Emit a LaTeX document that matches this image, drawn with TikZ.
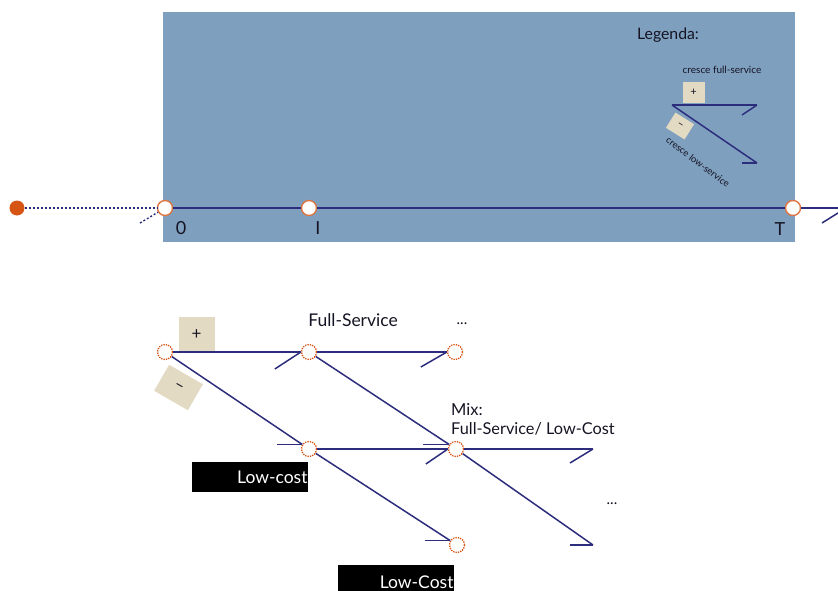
\documentclass[tikz,border=0pt]{standalone}
\usepackage{fontspec}
\setmainfont{Lato}
\definecolor{panelblue}{RGB}{127,159,191}
\definecolor{navy}{RGB}{45,45,125}
\definecolor{dotorange}{RGB}{214,84,20}
\definecolor{beige}{RGB}{226,218,194}
\definecolor{inkdark}{RGB}{20,20,35}
\begin{document}
\begin{tikzpicture}[x=1pt,y=-1pt,
  edge/.style={draw=navy, line width=1.5pt},
  dotedge/.style={draw=navy, line width=1.4pt, dash pattern=on 2pt off 2pt},
  tick/.style={circle, minimum size=15pt, inner sep=0pt, fill=white, draw=dotorange!80!white, line width=1.4pt},
  state/.style={circle, minimum size=15pt, inner sep=0pt, fill=white, draw=dotorange, line width=1.3pt, dash pattern=on 1.3pt off 1.1pt},
  signbox/.style={fill=beige, inner sep=0pt, text=inkdark},
  tag/.style={fill=black, text=white, inner sep=0pt, minimum width=116pt, minimum height=30pt, font=\fontsize{17.5}{19}\selectfont, text width=115pt, align=right},
  label/.style={text=inkdark, inner sep=0pt},
]
\useasboundingbox (0,0) rectangle (838,591);
\clip (0,0) rectangle (838,591);

% time panel
\fill[panelblue] (163,12) rectangle (795,242);

% timeline
\node[circle, fill=dotorange, minimum size=15pt, inner sep=0pt] (start) at (17,208) {};
\node[tick] (t0) at (165,208) {};
\node[tick] (tI) at (309,208) {};
\node[tick] (tT) at (793,208) {};
\coordinate (tEnd) at (846,208);
\coordinate (stub) at (140,223);
\draw[dotedge] (start) -- (t0);
\draw[dotedge] (stub) -- (t0);
\draw[edge] (t0) -- (tI);
\draw[edge] (tI) -- (tT);
\draw[edge] (tT) -- (tEnd);
\draw[edge] (tEnd) -- ++(-24,15);

\node[label, font=\fontsize{18}{19}\selectfont] (l0) at (181,228) {0};
\node[label, font=\fontsize{18}{19}\selectfont] (lI) at (318,228) {I};
\node[label, font=\fontsize{18}{19}\selectfont] (lT) at (780,229) {T};

% legend
\node[label, font=\fontsize{15.8}{17}\selectfont] (leg) at (668,35) {Legenda:};
\node[label, font=\fontsize{10}{11}\selectfont] (legfull) at (722,70) {cresce full-service};
\node[signbox, minimum width=22pt, minimum height=21pt, font=\fontsize{11}{12}\selectfont] (legplus) at (693.5,92.5) {+};
\node[signbox, minimum width=22pt, minimum height=18pt, rotate=-32, font=\fontsize{11}{12}\selectfont] (legminus) at (680,126) {--};
\node[label, rotate=-37, font=\fontsize{9.5}{10}\selectfont] (leglow) at (698,162) {cresce low-service};
\coordinate (legO) at (672,105);
\coordinate (legH) at (757,105);
\coordinate (legD) at (757,163);
\draw[edge] (legO) -- (legH);
\draw[edge] (legH) -- ++(-15,10);
\draw[edge] (legO) -- (legD);
\draw[edge] (legD) -- ++(-15,0);

% decision tree
\node[state] (A) at (165,352) {};
\node[state] (B) at (309,352) {};
\node[state] (C) at (455,352) {};
\node[state] (D) at (309,449) {};
\node[state] (E) at (456,449) {};
\node[state] (F) at (457,545) {};
\coordinate (Eh) at (593,449);
\coordinate (Ed) at (593,545);

\node[signbox, minimum size=36pt, font=\fontsize{17}{18}\selectfont] (plus) at (196.5,334.5) {+};
\node[signbox, minimum width=39pt, minimum height=30pt, rotate=-30, font=\fontsize{17}{18}\selectfont] (minus) at (178.5,387.5) {--};

\draw[edge] (A) -- (B) coordinate[pos=1] (ab);
\draw[edge] (ab) -- ++(-26,17);
\draw[edge] (A) -- (D) coordinate[pos=1] (ad);
\draw[edge] (ad) -- ++(-25,0);
\draw[edge] (B) -- (C) coordinate[pos=1] (bc);
\draw[edge] (bc) -- ++(-26,15);
\draw[edge] (B) -- (E) coordinate[pos=1] (be);
\draw[edge] (be) -- ++(-26,0);
\draw[edge] (D) -- (E) coordinate[pos=1] (de);
\draw[edge] (de) -- ++(-22,15);
\draw[edge] (D) -- (F) coordinate[pos=1] (df);
\draw[edge] (df) -- ++(-25,0);
\draw[edge] (E) -- (Eh);
\draw[edge] (Eh) -- ++(-23,14);
\draw[edge] (E) -- (Ed);
\draw[edge] (Ed) -- ++(-23,0);

\node[label, font=\fontsize{17.5}{19}\selectfont] (fs) at (353,320) {Full-Service};
\node[label, font=\fontsize{15}{16}\selectfont] (dots1) at (462,324) {...};
\node[label, anchor=west, font=\fontsize{16.5}{18}\selectfont] (mix) at (451,410) {Mix:};
\node[label, anchor=west, font=\fontsize{16.3}{17}\selectfont] (mix2) at (451,429) {Full-Service/ Low-Cost};
\node[label, font=\fontsize{15}{16}\selectfont] (dots2) at (612,504) {...};

\node[tag] (lc1) at (250,477) {Low-cost};
\node[tag, minimum height=34pt] (lc2) at (396,582) {Low-Cost};
\end{tikzpicture}
\end{document}
